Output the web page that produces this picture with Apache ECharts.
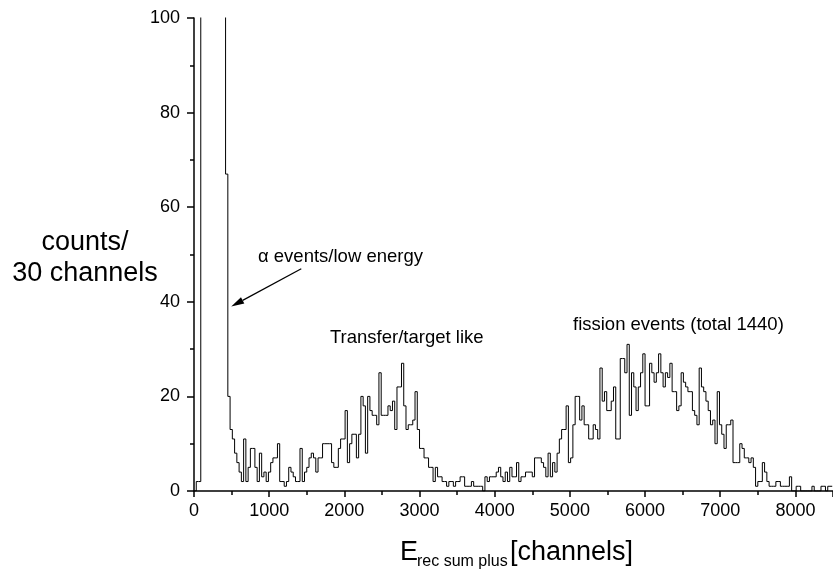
<!DOCTYPE html>
<html>
<head>
<meta charset="utf-8">
<script src="https://cdn.jsdelivr.net/npm/echarts@6/dist/echarts.min.js"></script>
<style>
  html, body { margin: 0; padding: 0; background: #fff; }
  #chart { width: 833px; height: 575px; }
</style>
</head>
<body>
<div id="chart"></div>
<script>
// Histogram of E_rec sum plus, 30 channels per bin, starting at channel 0
const binWidth = 30;
const counts = [
  0, 2, 2,
  310, 820, 1250, 1480, 1390, 1120, 800, 520, 330, 210, 130,
  67, 20, 13, 11, 8, 6, 4, 2, 11, 2,
  5, 9, 9, 5, 2, 8, 3, 4, 2, 4,
  6, 7, 7, 10, 2, 2, 1, 2, 5, 4,
  3, 2, 2, 9, 2, 4, 5, 7, 8, 7,
  4, 7, 7, 10, 10, 10, 10, 6, 5, 5,
  9, 11, 11, 17, 6, 10, 12, 12, 7, 12,
  20, 18, 8, 20, 17, 16, 16, 14, 25, 16,
  16, 16, 18, 17, 19, 13, 22, 22, 27, 18,
  13, 14, 14, 15, 21, 13, 9, 9, 7, 7,
  5, 5, 2, 5, 3, 3, 2, 2, 1, 2,
  2, 1, 2, 2, 3, 3, 1, 1, 1, 2,
  1, 1, 1, 1, 0, 3, 2, 3, 3, 3,
  4, 5, 3, 2, 4, 2, 5, 3, 3, 6,
  2, 3, 3, 4, 4, 4, 3, 7, 7, 7,
  6, 5, 3, 8, 3, 6, 4, 8, 11, 13,
  13, 18, 6, 7, 14, 20, 20, 15, 18, 14,
  14, 11, 11, 14, 13, 11, 26, 19, 21, 17,
  17, 19, 22, 11, 11, 28, 28, 25, 31, 16,
  25, 22, 17, 22, 25, 29, 18, 18, 27, 25,
  23, 25, 29, 25, 22, 25, 24, 27, 21, 21,
  17, 18, 25, 23, 22, 21, 21, 17, 16, 14,
  26, 22, 21, 19, 17, 14, 15, 10, 21, 14,
  12, 9, 14, 14, 15, 6, 6, 6, 10, 9,
  7, 7, 6, 7, 5, 1, 2, 2, 6, 4,
  2, 1, 1, 1, 2, 2, 1, 1, 1, 1,
  3, 0, 0, 1, 1, 0, 0, 0, 0, 0,
  1, 0, 0, 0, 1, 1, 0, 1, 1
];

// Axis settings
const xMin = 0, xMax = 8500, xStep = 1000;
const yMin = 0, yMax = 100, yStep = 20;

// Text annotations
const yTitleLines = ['counts/', '30 channels'];
const xTitleParts = ['E', 'rec sum plus', '[channels]'];
const alphaNote = 'α events/low energy';
const transferNote = 'Transfer/target like';
const fissionNote = 'fission events (total 1440)';
// Arrow from the note down to the low-energy edge: [channel, counts]
const arrowFrom = [1427, 47];
const arrowTo = [495, 39];

// Build step points: each bin's value is held from its left edge to the next edge
const stepData = counts.map((c, i) => [i * binWidth, c]);
stepData.push([counts.length * binWidth, counts[counts.length - 1]]);

const FONT = '"Liberation Sans", Arial, Helvetica, sans-serif';

function txt(x, y, text, size, align) {
  return {
    type: 'text', x: x, y: y, silent: true,
    style: { text: text, font: size + 'px ' + FONT, fill: '#000', textAlign: align, textVerticalAlign: 'middle' }
  };
}

const chart = echarts.init(document.getElementById('chart'), null, { renderer: 'canvas' });
chart.setOption({
  animation: false,
  backgroundColor: '#ffffff',
  grid: { left: 194, right: 0, top: 18, bottom: 84, containLabel: false },
  xAxis: {
    type: 'value',
    min: xMin, max: xMax, interval: xStep,
    axisLine: { show: true, onZero: false, lineStyle: { color: '#000', width: 1.5 } },
    axisTick: { show: true, inside: false, length: 6, lineStyle: { color: '#000', width: 1.5 } },
    minorTick: { show: true, splitNumber: 2, length: 4, lineStyle: { color: '#000', width: 1.5 } },
    axisLabel: { color: '#000', fontFamily: FONT, fontSize: 18, margin: 11, showMaxLabel: false,
      formatter: v => String(v) },
    splitLine: { show: false }
  },
  yAxis: {
    type: 'value',
    min: yMin, max: yMax, interval: yStep,
    axisLine: { show: true, lineStyle: { color: '#000', width: 1.5 } },
    axisTick: { show: true, inside: false, length: 7, lineStyle: { color: '#000', width: 1.5 } },
    minorTick: { show: true, splitNumber: 2, length: 4, lineStyle: { color: '#000', width: 1.5 } },
    axisLabel: { color: '#000', fontFamily: FONT, fontSize: 18, margin: 14, formatter: v => String(v) },
    splitLine: { show: false }
  },
  series: [{
    type: 'line',
    step: 'end',
    data: stepData,
    showSymbol: false,
    clip: true,
    lineStyle: { color: '#000', width: 1 },
    emphasis: { disabled: true }
  }]
});

// Arrow: placed in data coordinates through the grid's own scales
const p0 = chart.convertToPixel({ gridIndex: 0 }, arrowFrom);
const p1 = chart.convertToPixel({ gridIndex: 0 }, arrowTo);
const dx = p1[0] - p0[0], dy = p1[1] - p0[1];
const len = Math.hypot(dx, dy);
const ux = dx / len, uy = dy / len;
const headLen = 13, headHalf = 3.5;
const bx = p1[0] - ux * headLen, by = p1[1] - uy * headLen;

chart.setOption({
  graphic: [
    txt(85, 243, yTitleLines[0], 27, 'center'),
    txt(85, 274, yTitleLines[1], 27, 'center'),
    txt(400, 553, xTitleParts[0], 27, 'left'),
    txt(417, 562, xTitleParts[1], 16, 'left'),
    txt(510, 553, xTitleParts[2], 27, 'left'),
    txt(258, 257, alphaNote, 18.5, 'left'),
    txt(330, 338, transferNote, 18.5, 'left'),
    txt(573, 325, fissionNote, 18.5, 'left'),
    { type: 'line', silent: true,
      shape: { x1: p0[0], y1: p0[1], x2: bx, y2: by },
      style: { stroke: '#000', lineWidth: 1.2 } },
    { type: 'polygon', silent: true,
      shape: { points: [
        [p1[0], p1[1]],
        [bx - uy * headHalf, by + ux * headHalf],
        [bx + uy * headHalf, by - ux * headHalf]
      ] },
      style: { fill: '#000' } }
  ]
});
</script>
</body>
</html>
